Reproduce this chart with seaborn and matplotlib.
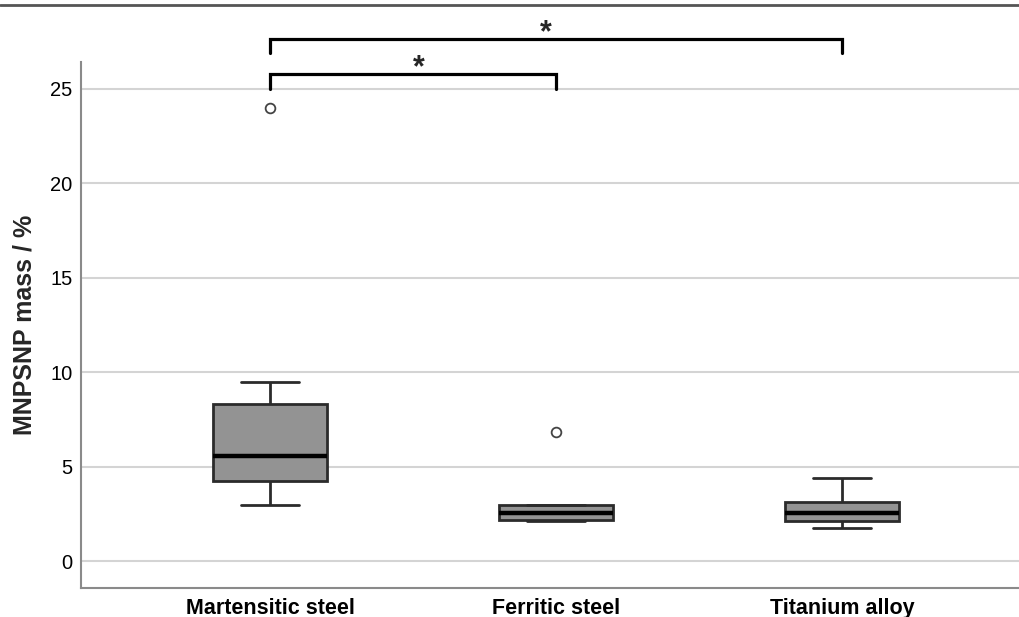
import pandas as pd
import numpy as np
import matplotlib
matplotlib.use('Agg')
import matplotlib.pyplot as plt
from matplotlib.lines import Line2D
import seaborn as sns

# Data (sample values read so the box statistics match the picture)
categories = ['Martensitic steel', 'Ferritic steel', 'Titanium alloy']
martensitic = [2.97, 3.6, 4.24, 4.9, 5.56, 7.0, 8.32, 9.48, 24.0]
ferritic = [2.12, 2.14, 2.15, 2.4, 2.54, 2.8, 2.97, 2.97, 6.83]
titanium = [1.75, 2.0, 2.13, 2.3, 2.52, 2.8, 3.14, 3.6, 4.40]
y_ticks = [0, 5, 10, 15, 20, 25]

df = pd.DataFrame({
    'material': [categories[0]] * len(martensitic) + [categories[1]] * len(ferritic)
                + [categories[2]] * len(titanium),
    'mass': martensitic + ferritic + titanium,
})

sns.set_style('white')
plt.rcParams['font.family'] = ['Liberation Sans', 'DejaVu Sans']

fig = plt.figure(figsize=(10.19, 6.17), dpi=100)
ax = fig.add_axes([81 / 1019, 1 - 588 / 617, 1 - 81 / 1019, (588 - 62) / 617])

sns.boxplot(data=df, x='material', y='mass', order=categories, ax=ax,
            color='#939393', saturation=1, width=0.4, linewidth=2,
            linecolor='#2b2b2b',
            medianprops=dict(color='black', linewidth=3.2),
            flierprops=dict(marker='o', markersize=7, markerfacecolor='white',
                            markeredgecolor='#444444', markeredgewidth=1.3))

ax.set_xlim(-0.661, 2.619)
ax.set_ylim(-1.43, 26.43)
ax.set_yticks(y_ticks)
ax.yaxis.grid(True, color='#d4d4d4', linewidth=1.5)
ax.set_axisbelow(True)
ax.tick_params(axis='both', length=0, colors='black')
ax.tick_params(axis='y', pad=6, labelsize=14.5)
ax.tick_params(axis='x', pad=7, labelsize=15.5)
for lbl in ax.get_xticklabels():
    lbl.set_fontweight('bold')
ax.set_xlabel('')
ax.set_ylabel('MNPSNP mass / %', fontsize=18, fontweight='bold', labelpad=10)
for side in ['top', 'right']:
    ax.spines[side].set_visible(False)
for side in ['left', 'bottom']:
    ax.spines[side].set_color('#8a8a8a')
    ax.spines[side].set_linewidth(1.5)

# significance brackets
def bracket(x0, x1, y_top, y_leg, star_x, star_y):
    ax.plot([x0, x0, x1, x1], [y_leg, y_top, y_top, y_leg], color='black',
            linewidth=2.3, clip_on=False, solid_joinstyle='miter')
    ax.text(star_x, star_y, '*', ha='center', va='center', fontsize=22,
            fontweight='bold', clip_on=False)

bracket(0, 1, 25.8, 25.0, 0.52, 26.1)
bracket(0, 2, 27.65, 26.9, 0.965, 27.95)

# top rule of the figure
fig.add_artist(Line2D([0, 1], [1 - 5 / 617, 1 - 5 / 617], color='#555555', linewidth=2))

fig.savefig('out.png', dpi=100)
